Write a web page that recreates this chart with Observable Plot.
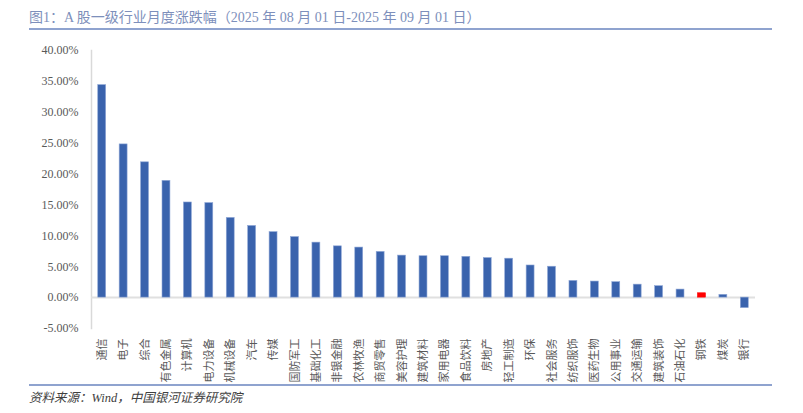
<!DOCTYPE html>
<html>
<head>
<meta charset="utf-8">
<script src="https://cdn.jsdelivr.net/npm/d3@7"></script>
<script src="https://cdn.jsdelivr.net/npm/@observablehq/plot@0.6"></script>
<style>
  html, body { margin: 0; padding: 0; background: #fff; }
  body { width: 803px; height: 413px; overflow: hidden; }
  #title {
    margin-left: 29px; width: 743px; height: 28px; line-height: 36px;
    border-bottom: 2px solid #8fa3cf;
    font-family: "Liberation Serif", "Noto Sans CJK SC", serif;
    font-size: 14px; color: #7d8fbb; white-space: nowrap;
  }
  #chart { height: 354px; }
  #source {
    margin-left: 29px; width: 743px; border-top: 2px solid #8fa3cf;
    font-family: "Liberation Serif", "Noto Sans CJK SC", serif;
    font-style: italic; font-size: 12.5px; color: #404040;
    padding-top: 3px; line-height: 18px; white-space: nowrap;
  }
</style>
</head>
<body>
<div id="title">图1：A 股一级行业月度涨跌幅（2025 年 08 月 01 日-2025 年 09 月 01 日）</div>
<div id="chart"></div>
<div id="source">资料来源：Wind，中国银河证券研究院</div>
<script>
const categories = ["通信","电子","综合","有色金属","计算机","电力设备","机械设备","汽车","传媒","国防军工","基础化工","非银金融","农林牧渔","商贸零售","美容护理","建筑材料","家用电器","食品饮料","房地产","轻工制造","环保","社会服务","纺织服饰","医药生物","公用事业","交通运输","建筑装饰","石油石化","钢铁","煤炭","银行"];
const changes = [34.4, 24.8, 21.9, 18.9, 15.4, 15.3, 12.9, 11.6, 10.6, 9.8, 8.9, 8.3, 8.1, 7.4, 6.8, 6.7, 6.7, 6.6, 6.4, 6.3, 5.2, 5.0, 2.7, 2.6, 2.5, 2.1, 1.85, 1.3, 0.7, 0.45, -1.7];
const yTicks = [-5, 0, 5, 10, 15, 20, 25, 30, 35, 40];
const highlighted = "钢铁";

const data = categories.map((c, i) => ({category: c, value: changes[i]}));

const chart = Plot.plot({
  width: 803,
  height: 354,
  marginTop: 20,
  marginBottom: 56,
  marginLeft: 91,
  marginRight: 48,
  x: {domain: categories, paddingInner: 0.63, paddingOuter: 0.315, round: false, label: null},
  y: {domain: [-5, 40], label: null},
  style: {background: "transparent"},
  marks: [
    Plot.axisY({
      ticks: yTicks, tickSize: 0, tickPadding: 13,
      tickFormat: d => d.toFixed(2) + "%",
      fontSize: 12, fill: "#595959",
      fontFamily: "Liberation Serif, serif"
    }),
    Plot.axisX({
      tickSize: 0, tickPadding: 10, tickRotate: -90,
      fontSize: 11, fill: "#595959",
      fontFamily: "Noto Sans CJK SC, sans-serif"
    }),
    Plot.frame({anchor: "left", stroke: "#d9d9d9", strokeWidth: 1.5}),
    Plot.ruleY([0], {stroke: "#e0e0e0", strokeWidth: 2}),
    Plot.barY(data, {
      x: "category", y: "value",
      fill: d => d.category === highlighted ? "#ff0000" : "#3a63ad",
      stroke: d => d.category === highlighted ? "#ff0000" : "#8fa7d6",
      strokeWidth: 0.6
    })
  ]
});
document.getElementById("chart").appendChild(chart);
</script>
</body>
</html>
